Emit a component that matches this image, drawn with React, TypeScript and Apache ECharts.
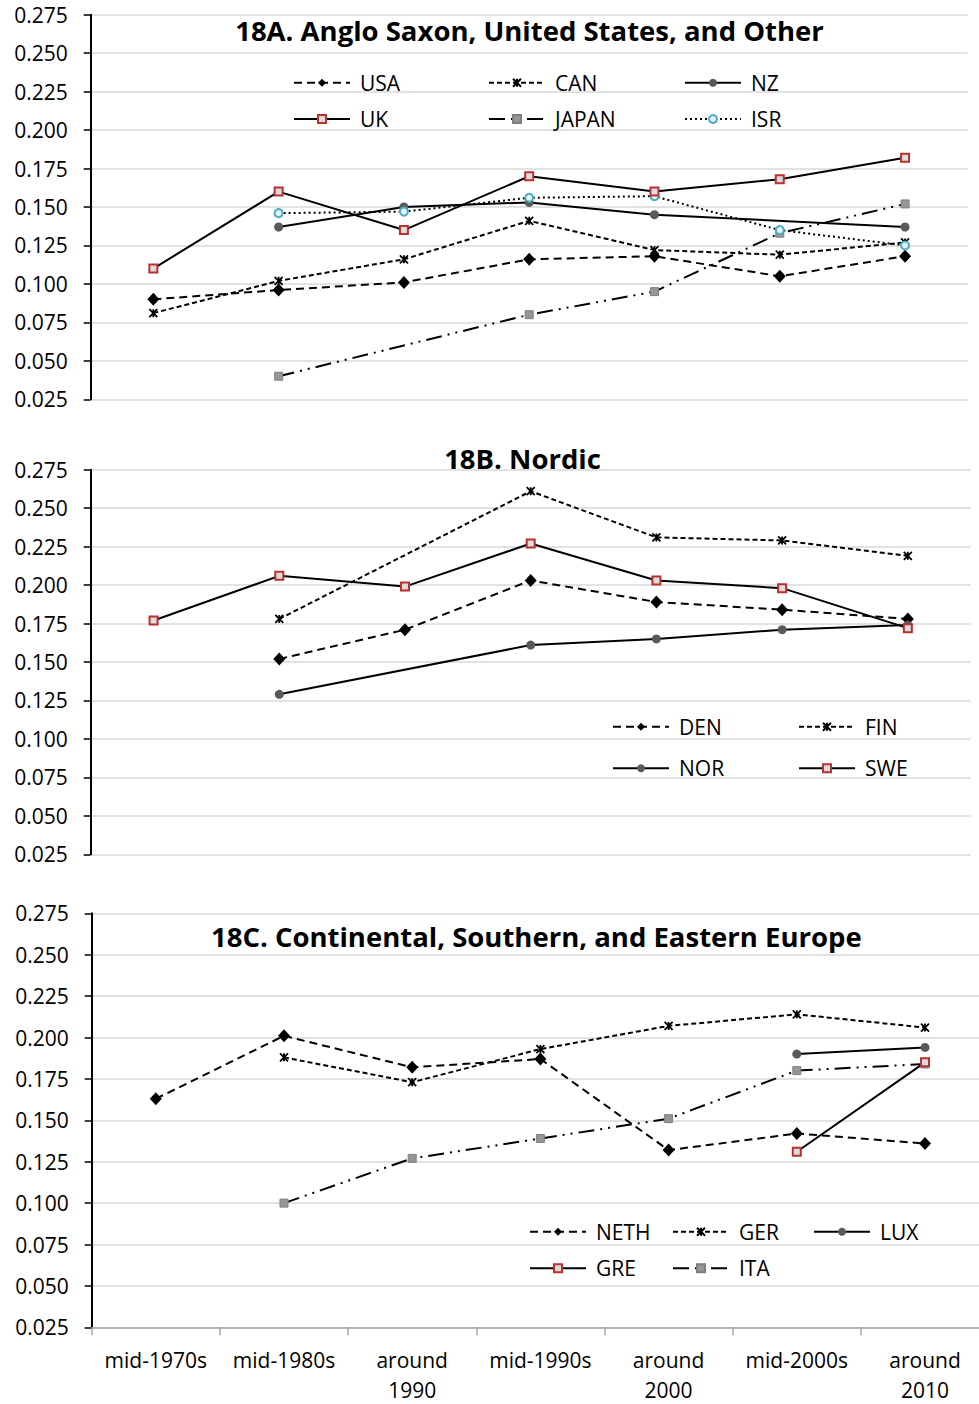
import React, { useEffect, useRef } from "react";
import * as echarts from "echarts";

// ---------- data ----------
const periods = ["mid-1970s", "mid-1980s", "around 1990", "mid-1990s", "around 2000", "mid-2000s", "around 2010"];

// 18A. Anglo Saxon, United States, and Other
const usa = [0.090, 0.096, 0.101, 0.116, 0.118, 0.105, 0.118];
const can = [0.081, 0.102, 0.116, 0.141, 0.122, 0.119, 0.127];
const nz = [null, 0.137, 0.150, 0.153, 0.145, null, 0.137];
const uk = [0.110, 0.160, 0.135, 0.170, 0.160, 0.168, 0.182];
const japan = [null, 0.040, null, 0.080, 0.095, 0.133, 0.152];
const isr = [null, 0.146, 0.147, 0.156, 0.157, 0.135, 0.125];

// 18B. Nordic
const den = [null, 0.152, 0.171, 0.203, 0.189, 0.184, 0.178];
const fin = [null, 0.178, null, 0.261, 0.231, 0.229, 0.219];
const nor = [null, 0.129, null, 0.161, 0.165, 0.171, 0.174];
const swe = [0.177, 0.206, 0.199, 0.227, 0.203, 0.198, 0.172];

// 18C. Continental, Southern, and Eastern Europe
const neth = [0.163, 0.201, 0.182, 0.187, 0.132, 0.142, 0.136];
const ger = [null, 0.188, 0.173, 0.193, 0.207, 0.214, 0.206];
const lux = [null, null, null, null, null, 0.190, 0.194];
const gre = [null, null, null, null, null, 0.131, 0.185];
const ita = [null, 0.100, 0.127, 0.139, 0.151, 0.180, 0.184];

const panelTitles = [
  "18A. Anglo Saxon, United States, and Other",
  "18B. Nordic",
  "18C. Continental, Southern, and Eastern Europe",
];

const yMin = 0.025;
const yMax = 0.275;
const yStep = 0.025;

// ---------- styles ----------
const FONT = '"Open Sans", "DejaVu Sans", sans-serif';
const ASTERISK = "path://M0,0L10,10M10,0L0,10M5,0L5,10";

const kinds: Record<string, any> = {
  dashDiamond: {
    lineType: [8, 5],
    symbol: "diamond",
    symbolSize: [12, 13],
    item: { color: "#000", borderColor: "#000", borderWidth: 0 },
  },
  shortDashStar: {
    lineType: [5, 3],
    symbol: ASTERISK,
    symbolSize: 8,
    item: { color: "#000", borderColor: "#000", borderWidth: 1.8 },
  },
  solidCircle: {
    lineType: "solid",
    symbol: "circle",
    symbolSize: 9,
    item: { color: "#595959", borderColor: "#595959", borderWidth: 0 },
  },
  solidSquare: {
    lineType: "solid",
    symbol: "rect",
    symbolSize: 8,
    item: { color: "#dcdcdc", borderColor: "#b8312f", borderWidth: 2 },
  },
  dashDotSquare: {
    lineType: [16, 6, 2, 6, 2, 6],
    symbol: "rect",
    symbolSize: 8,
    item: { color: "#969696", borderColor: "#7f7f7f", borderWidth: 1 },
  },
  dotCircle: {
    lineType: [2, 3],
    symbol: "circle",
    symbolSize: 8,
    item: { color: "#e6f3f7", borderColor: "#4bacc6", borderWidth: 2 },
  },
};

function mk(name: string, data: (number | null)[], kind: string, idx: number) {
  const k = kinds[kind];
  return {
    name,
    type: "line",
    xAxisIndex: idx,
    yAxisIndex: idx,
    data,
    connectNulls: true,
    symbol: k.symbol,
    symbolSize: k.symbolSize,
    showSymbol: true,
    showAllSymbol: true,
    lineStyle: { color: "#000", width: 2, type: k.lineType },
    itemStyle: k.item,
    emphasis: { disabled: true },
    silent: true,
  };
}

function legendItem(name: string, left: number, cy: number) {
  return {
    data: [name],
    left,
    top: cy - 10.5,
    padding: 0,
    itemWidth: 56,
    itemHeight: 10,
    itemGap: 0,
    selectedMode: false,
    textStyle: { fontFamily: FONT, fontSize: 21, color: "#000", padding: [0, 0, 0, 5] },
  };
}

const grids = [
  { left: 90.7, top: 14.7, width: 877, height: 384.6, outerBoundsMode: "none", containLabel: false },
  { left: 90.7, top: 469.7, width: 880, height: 384.6, outerBoundsMode: "none", containLabel: false },
  { left: 91.7, top: 913.3, width: 897.4, height: 414, outerBoundsMode: "none", containLabel: false },
];

const titlePos = [
  [529.5, 30],
  [522.5, 458.5],
  [536.3, 936],
];

export default function App() {
  const ref = useRef<HTMLDivElement>(null);
  useEffect(() => {
    document.body.style.margin = "0";
    if (!ref.current) return;
    const chart = echarts.init(ref.current, undefined, { renderer: "svg" });

    const yAxis = grids.map((_, i) => ({
      type: "value",
      gridIndex: i,
      min: yMin,
      max: yMax,
      interval: yStep,
      axisLine: { show: true, lineStyle: { color: "#000", width: 2 } },
      axisTick: { show: true, length: 7, lineStyle: { color: "#000", width: 1.5 } },
      axisLabel: {
        fontFamily: FONT,
        fontSize: 21,
        color: "#000",
        margin: 23,
        formatter: (v: number) => v.toFixed(3),
      },
      splitLine: { show: true, lineStyle: { color: "#d9d9d9", width: 1.5 } },
    }));

    const xAxis = grids.map((_, i) => ({
      type: "category",
      gridIndex: i,
      data: periods,
      boundaryGap: true,
      show: i === 2,
      axisLine: { show: true, lineStyle: { color: "#a6a6a6", width: 1.5 } },
      axisTick: { show: true, length: 8, interval: 0, lineStyle: { color: "#a6a6a6", width: 1.5 } },
      axisLabel: {
        interval: 0,
        fontFamily: FONT,
        fontSize: 21,
        lineHeight: 30,
        color: "#000",
        margin: 18,
        hideOverlap: false,
        formatter: (v: string) => v.replace(" ", "\n"),
      },
      splitLine: { show: false },
    }));

    const series = [
      mk("USA", usa, "dashDiamond", 0),
      mk("CAN", can, "shortDashStar", 0),
      mk("NZ", nz, "solidCircle", 0),
      mk("JAPAN", japan, "dashDotSquare", 0),
      mk("ISR", isr, "dotCircle", 0),
      mk("UK", uk, "solidSquare", 0),
      mk("DEN", den, "dashDiamond", 1),
      mk("FIN", fin, "shortDashStar", 1),
      mk("NOR", nor, "solidCircle", 1),
      mk("SWE", swe, "solidSquare", 1),
      mk("NETH", neth, "dashDiamond", 2),
      mk("GER", ger, "shortDashStar", 2),
      mk("LUX", lux, "solidCircle", 2),
      mk("ITA", ita, "dashDotSquare", 2),
      mk("GRE", gre, "solidSquare", 2),
    ];

    const legend = [
      legendItem("USA", 293, 82.7),
      legendItem("CAN", 488, 82.7),
      legendItem("NZ", 684, 82.7),
      legendItem("UK", 293, 119),
      legendItem("JAPAN", 488, 119),
      legendItem("ISR", 684, 119),
      legendItem("DEN", 612, 726.7),
      legendItem("FIN", 798, 726.7),
      legendItem("NOR", 612, 768.3),
      legendItem("SWE", 798, 768.3),
      legendItem("NETH", 529, 1231.7),
      legendItem("GER", 672, 1231.7),
      legendItem("LUX", 813, 1231.7),
      legendItem("GRE", 529, 1268.3),
      legendItem("ITA", 672, 1268.3),
    ];

    const graphic = panelTitles.map((t, i) => ({
      type: "text",
      x: titlePos[i][0],
      y: titlePos[i][1],
      z: 100,
      silent: true,
      style: {
        text: t,
        fontFamily: FONT,
        fontSize: 27.5,
        fontWeight: "bold",
        fill: "#000",
        align: "center",
        verticalAlign: "middle",
      },
    }));

    chart.setOption({
      animation: false,
      backgroundColor: "#fff",
      grid: grids,
      xAxis,
      yAxis,
      series,
      legend,
      graphic,
    });
    return () => chart.dispose();
  }, []);
  return <div ref={ref} style={{ width: 979, height: 1404 }} />;
}
